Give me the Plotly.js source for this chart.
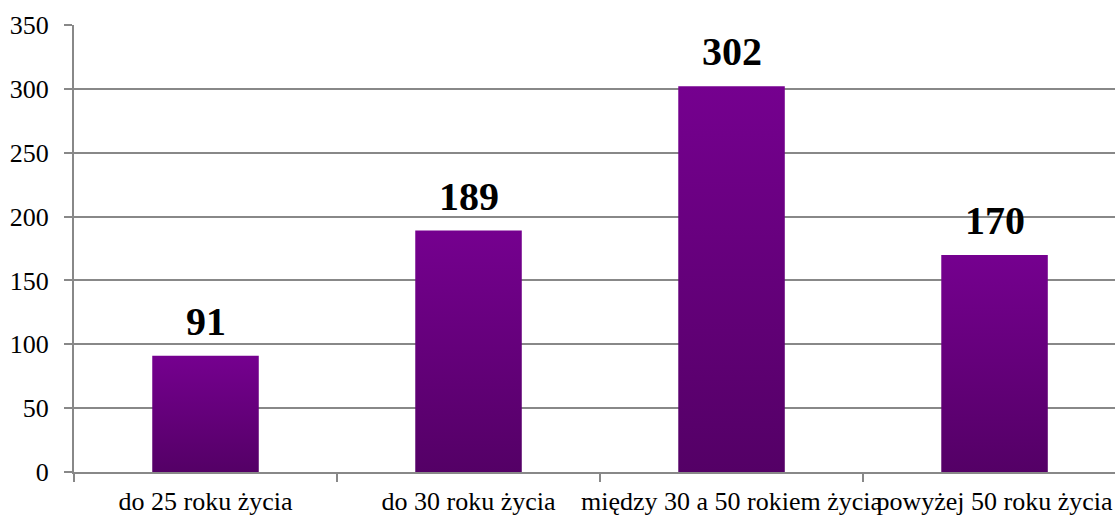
<!DOCTYPE html>
<html>
<head>
<meta charset="utf-8">
<script src="https://cdn.plot.ly/plotly-3.0.1.min.js"></script>
<style>html,body{margin:0;padding:0;background:#fff;}#chart{width:1115px;height:515px;}</style>
</head>
<body>
<div id="chart"></div>
<script>
const categories = ["do 25 roku życia", "do 30 roku życia", "między 30 a 50 rokiem życia", "powyżej 50 roku życia"];
const values = [91, 189, 302, 170];
const yTicks = [0, 50, 100, 150, 200, 250, 300, 350];

const FONT = 'Liberation Serif, Times New Roman, serif';

const trace = {
  type: 'bar',
  x: categories,
  y: values,
  width: 0.405,
  marker: {color: '#650079', line: {width: 0}},
  hoverinfo: 'none'
};

const annotations = categories.map(function(c, i){
  return {
    x: c, y: values[i], xref: 'x', yref: 'y',
    text: String(values[i]),
    showarrow: false, yanchor: 'bottom', yshift: 10,
    font: {family: FONT, size: 40, color: '#000', weight: 'bold'}
  };
});

const layout = {
  width: 1115, height: 515,
  margin: {l: 74, r: 0, t: 25, b: 43},
  paper_bgcolor: '#fff', plot_bgcolor: '#fff',
  showlegend: false,
  font: {family: FONT, size: 26, color: '#000'},
  annotations: annotations,
  xaxis: {
    type: 'category',
    range: [-0.5, 3.458],
    tickangle: 0,
    showline: true, linecolor: '#888', linewidth: 2,
    ticks: 'outside', tickson: 'boundaries', ticklen: 8, tickcolor: '#888', tickwidth: 2,
    showgrid: false, zeroline: false,
    tickfont: {family: FONT, size: 26, color: '#000'},
    ticklabelstandoff: 5
  },
  yaxis: {
    range: [0, 350],
    tickvals: yTicks,
    showline: true, linecolor: '#888', linewidth: 2,
    ticks: 'outside', ticklen: 8, tickcolor: '#888', tickwidth: 2,
    showgrid: true, gridcolor: '#888', gridwidth: 2,
    zeroline: false,
    tickfont: {family: FONT, size: 26, color: '#000'},
    ticklabelstandoff: 10
  }
};

Plotly.newPlot('chart', [trace], layout, {staticPlot: true, displayModeBar: false}).then(function(gd){
  const svg = gd.querySelector('svg.main-svg');
  const ns = 'http://www.w3.org/2000/svg';
  let defs = svg.querySelector('defs');
  if (!defs) { defs = document.createElementNS(ns, 'defs'); svg.insertBefore(defs, svg.firstChild); }
  const grad = document.createElementNS(ns, 'linearGradient');
  grad.setAttribute('id', 'barGrad');
  grad.setAttribute('x1', '0'); grad.setAttribute('y1', '0');
  grad.setAttribute('x2', '0'); grad.setAttribute('y2', '1');
  [['0%', '#75008f'], ['100%', '#540066']].forEach(function(s){
    const st = document.createElementNS(ns, 'stop');
    st.setAttribute('offset', s[0]); st.setAttribute('stop-color', s[1]);
    grad.appendChild(st);
  });
  defs.appendChild(grad);
  gd.querySelectorAll('.bars .point path').forEach(function(p){
    p.style.fill = 'url(#barGrad)';
  });
});
</script>
</body>
</html>
